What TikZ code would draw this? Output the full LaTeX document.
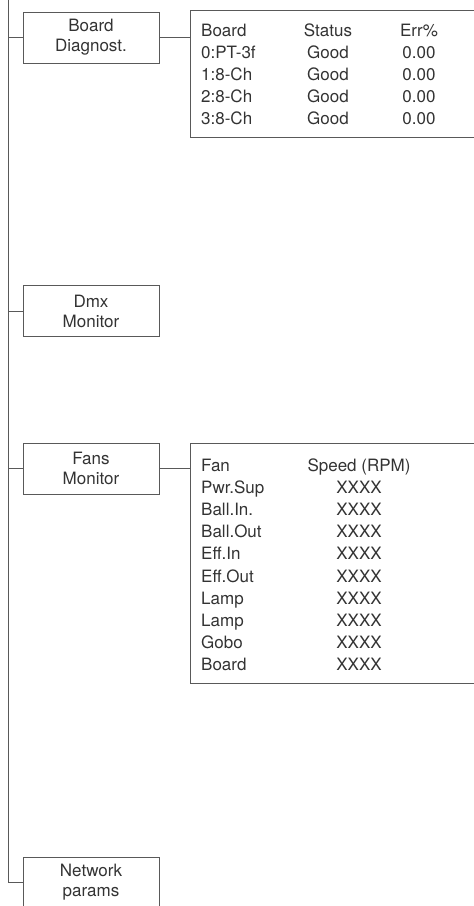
\documentclass[tikz,border=0pt]{standalone}
\usepackage{fontspec}
\setmainfont{TeX Gyre Heros}
\usetikzlibrary{positioning}
\definecolor{linegray}{gray}{0.35}
\definecolor{textgray}{gray}{0.2}
\tikzset{
  menu box/.style={
    draw=linegray,
    line width=1pt,
    minimum width=136pt,
    minimum height=51pt,
    inner sep=0pt,
    align=center,
    font=\fontsize{17}{20}\selectfont,
    text=textgray
  },
  info box/.style={
    draw=linegray,
    line width=1pt,
    inner sep=0pt,
    anchor=north west
  },
  branch/.style={
    draw=linegray,
    line width=1pt
  },
  cell/.style={
    inner sep=0pt,
    font=\fontsize{17}{20}\selectfont,
    text=textgray
  }
}

\begin{document}
\begin{tikzpicture}[x=1pt, y=-1pt]
    \useasboundingbox (0,0) rectangle (474,906);
    \clip (0,0) rectangle (474,906);

    % menu entries
    \node[menu box] (diag) at (91, 37.5) {Board\\Diagnost.};
    \node[menu box] (dmx)  at (91, 311) {Dmx\\Monitor};
    \node[menu box] (fans) at (91, 468.7) {Fans\\Monitor};
    \node[menu box] (net)  at (91, 882.5) {Network\\params};

    % trunk and branches
    \coordinate (top) at (8.3, 0);
    \coordinate (bottom) at (8.3, 882.5);
    \draw[branch] (top) -- (bottom);
    \foreach \b in {diag, dmx, fans, net} {
      \draw[branch] (\b.west) -- (\b.west -| top);
    }

    % board diagnostics table
    \node[info box, minimum width=290pt, minimum height=127pt] (diagtab) at (190, 10) {};
    \draw[branch] (diag.east) -- (diag.east -| diagtab.west);
    \foreach \brd/\stat/\err [count=\i from 0] in {Board/Status/Err\%, 0:PT-3f/Good/0.00, 1:8-Ch/Good/0.00, 2:8-Ch/Good/0.00, 3:8-Ch/Good/0.00} {
      \node[cell, anchor=base west] (dg-\i-a) at (201, 36.5+22.1*\i) {\brd};
      \node[cell, anchor=base] (dg-\i-b) at (328, 36.5+22.1*\i) {\stat};
      \node[cell, anchor=base] (dg-\i-c) at (419, 36.5+22.1*\i) {\err};
    }

    % fans table
    \node[info box, minimum width=290pt, minimum height=240pt] (fantab) at (190, 443) {};
    \draw[branch] (fans.east) -- (fans.east -| fantab.west);
    \foreach \fan/\rpm [count=\i from 0] in {Fan/Speed (RPM), Pwr.Sup/XXXX, Ball.In./XXXX, Ball.Out/XXXX, Eff.In/XXXX, Eff.Out/XXXX, Lamp/XXXX, Lamp/XXXX, Gobo/XXXX, Board/XXXX} {
      \node[cell, anchor=base west] (fn-\i-a) at (201, 471.5+22.1*\i) {\fan};
      \node[cell, anchor=base] (fn-\i-b) at (359, 471.5+22.1*\i) {\rpm};
    }

  \end{tikzpicture}
\end{document}
